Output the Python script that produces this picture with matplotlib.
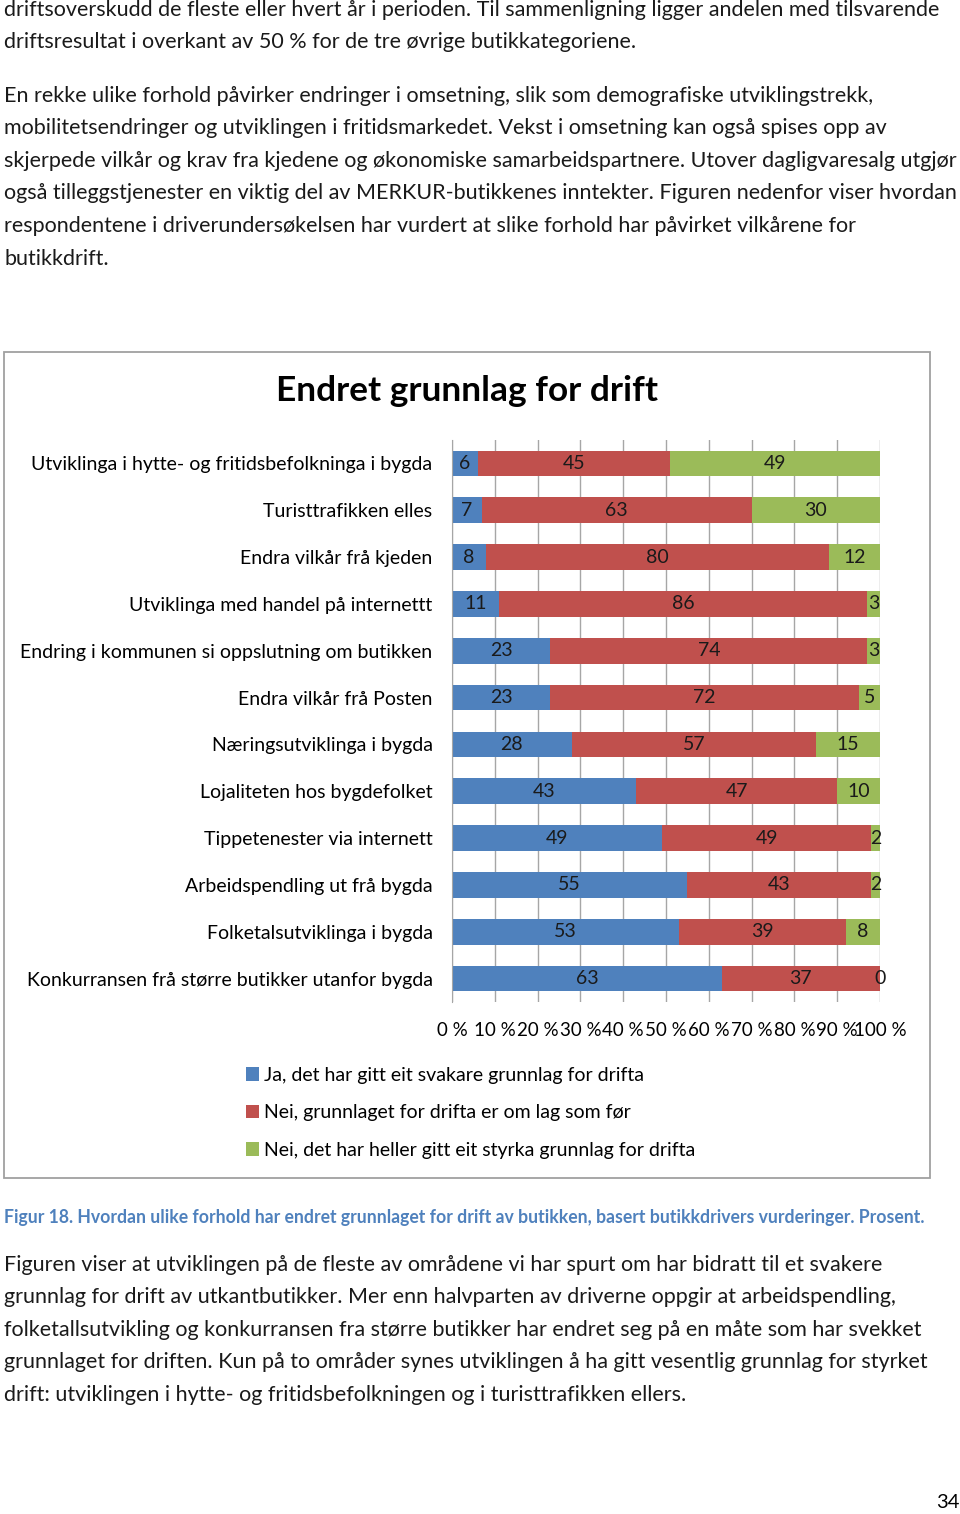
import matplotlib
matplotlib.use("Agg")
import matplotlib.pyplot as plt
from matplotlib.patches import Rectangle
from matplotlib.ticker import FuncFormatter

plt.rcParams['font.family'] = ['Lato', 'DejaVu Sans']

W, H = 960, 1514

categories = [
    "Utviklinga i hytte- og fritidsbefolkninga i bygda",
    "Turisttrafikken elles",
    "Endra vilkår frå kjeden",
    "Utviklinga med handel på internettt",
    "Endring i kommunen si oppslutning om butikken",
    "Endra vilkår frå Posten",
    "Næringsutviklinga i bygda",
    "Lojaliteten hos bygdefolket",
    "Tippetenester via internett",
    "Arbeidspendling ut frå bygda",
    "Folketalsutviklinga i bygda",
    "Konkurransen frå større butikker utanfor bygda",
]
svakare = [6, 7, 8, 11, 23, 23, 28, 43, 49, 55, 53, 63]
som_for = [45, 63, 80, 86, 74, 72, 57, 47, 49, 43, 39, 37]
styrka = [49, 30, 12, 3, 3, 5, 15, 10, 2, 2, 8, 0]
series_names = [
    "Ja, det har gitt eit svakare grunnlag for drifta",
    "Nei, grunnlaget for drifta er om lag som før",
    "Nei, det har heller gitt eit styrka grunnlag for drifta",
]
colors = ["#4F81BD", "#C0504D", "#9BBB59"]

top_lines = [
    "driftsoverskudd de fleste eller hvert år i perioden. Til sammenligning ligger andelen med tilsvarende",
    "driftsresultat i overkant av 50 % for de tre øvrige butikkategoriene.",
    "",
    "En rekke ulike forhold påvirker endringer i omsetning, slik som demografiske utviklingstrekk,",
    "mobilitetsendringer og utviklingen i fritidsmarkedet. Vekst i omsetning kan også spises opp av",
    "skjerpede vilkår og krav fra kjedene og økonomiske samarbeidspartnere. Utover dagligvaresalg utgjør",
    "også tilleggstjenester en viktig del av MERKUR-butikkenes inntekter. Figuren nedenfor viser hvordan",
    "respondentene i driverundersøkelsen har vurdert at slike forhold har påvirket vilkårene for",
    "butikkdrift.",
]
bottom_lines = [
    "Figuren viser at utviklingen på de fleste av områdene vi har spurt om har bidratt til et svakere",
    "grunnlag for drift av utkantbutikker. Mer enn halvparten av driverne oppgir at arbeidspendling,",
    "folketallsutvikling og konkurransen fra større butikker har endret seg på en måte som har svekket",
    "grunnlaget for driften. Kun på to områder synes utviklingen å ha gitt vesentlig grunnlag for styrket",
    "drift: utviklingen i hytte- og fritidsbefolkningen og i turisttrafikken ellers.",
]
caption = ("Figur 18. Hvordan ulike forhold har endret grunnlaget for drift av butikken, "
           "basert butikkdrivers vurderinger. Prosent.")


def fx(x):
    return x / W


def fy(y):
    return 1 - y / H


fig = plt.figure(figsize=(W / 100, H / 100), dpi=100)

body_size = 15.5
top_y = [10, 42, 69, 96, 128, 161, 193, 226, 259]
for y, line in zip(top_y, top_lines):
    fig.text(fx(4), fy(y), line, fontsize=body_size, va='center', ha='left', color='#1a1a1a')

# chart frame
fig.patches.append(Rectangle((fx(4), fy(1178)), fx(930) - fx(4), fy(352) - fy(1178),
                             transform=fig.transFigure, fill=False, edgecolor='#a0a0a0', lw=1.3))
fig.text(fx(467), fy(391), "Endret grunnlag for drift", fontsize=25.4, fontweight='bold',
         ha='center', va='center')

ax = fig.add_axes([fx(452), fy(1002), fx(880) - fx(452), fy(440) - fy(1002)])
ypos = list(range(len(categories)))
left = [0] * len(categories)
for vals, col, name in zip([svakare, som_for, styrka], colors, series_names):
    bars = ax.barh(ypos, vals, left=left, height=0.55, color=col, label=name, zorder=2)
    for b, v in zip(bars, vals):
        ax.text(b.get_x() + b.get_width() / 2, b.get_y() + b.get_height() / 2, str(v),
                ha='center', va='center', fontsize=14, color='#1a1a1a', zorder=3)
    left = [l + v for l, v in zip(left, vals)]

ax.set_xlim(0, 100)
ax.set_ylim(len(categories) - 0.5, -0.5)
ax.set_xticks(range(0, 101, 10))
ax.xaxis.set_major_formatter(FuncFormatter(lambda v, p: f"{int(v)} %"))
ax.set_yticks(ypos)
ax.set_yticklabels(categories)
ax.tick_params(axis='y', length=0, pad=14, labelsize=14)
ax.tick_params(axis='x', length=0, pad=14.5, labelsize=13.5)
ax.grid(axis='x', color='#a6a6a6', lw=1, zorder=0)
for s in ['top', 'right', 'bottom']:
    ax.spines[s].set_visible(False)
ax.spines['left'].set_color('#a6a6a6')

handles, labels = ax.get_legend_handles_labels()
fig.legend(handles, labels, loc='upper left', bbox_to_anchor=(fx(236), fy(1057)),
           frameon=False, fontsize=14, handlelength=0.7, handleheight=0.7,
           handletextpad=0.25, labelspacing=1.05, borderpad=0)

fig.text(fx(4), fy(1218), caption, fontsize=12.7, fontweight='bold', color='#4F81BD',
         ha='left', va='center')

bot_y = [1265, 1297, 1330, 1362, 1395]
for y, line in zip(bot_y, bottom_lines):
    fig.text(fx(4), fy(y), line, fontsize=body_size, va='center', ha='left', color='#1a1a1a')

fig.text(fx(960), fy(1503), "34", fontsize=14.5, ha='right', va='center')

fig.savefig("out.png", dpi=100, facecolor='white')
